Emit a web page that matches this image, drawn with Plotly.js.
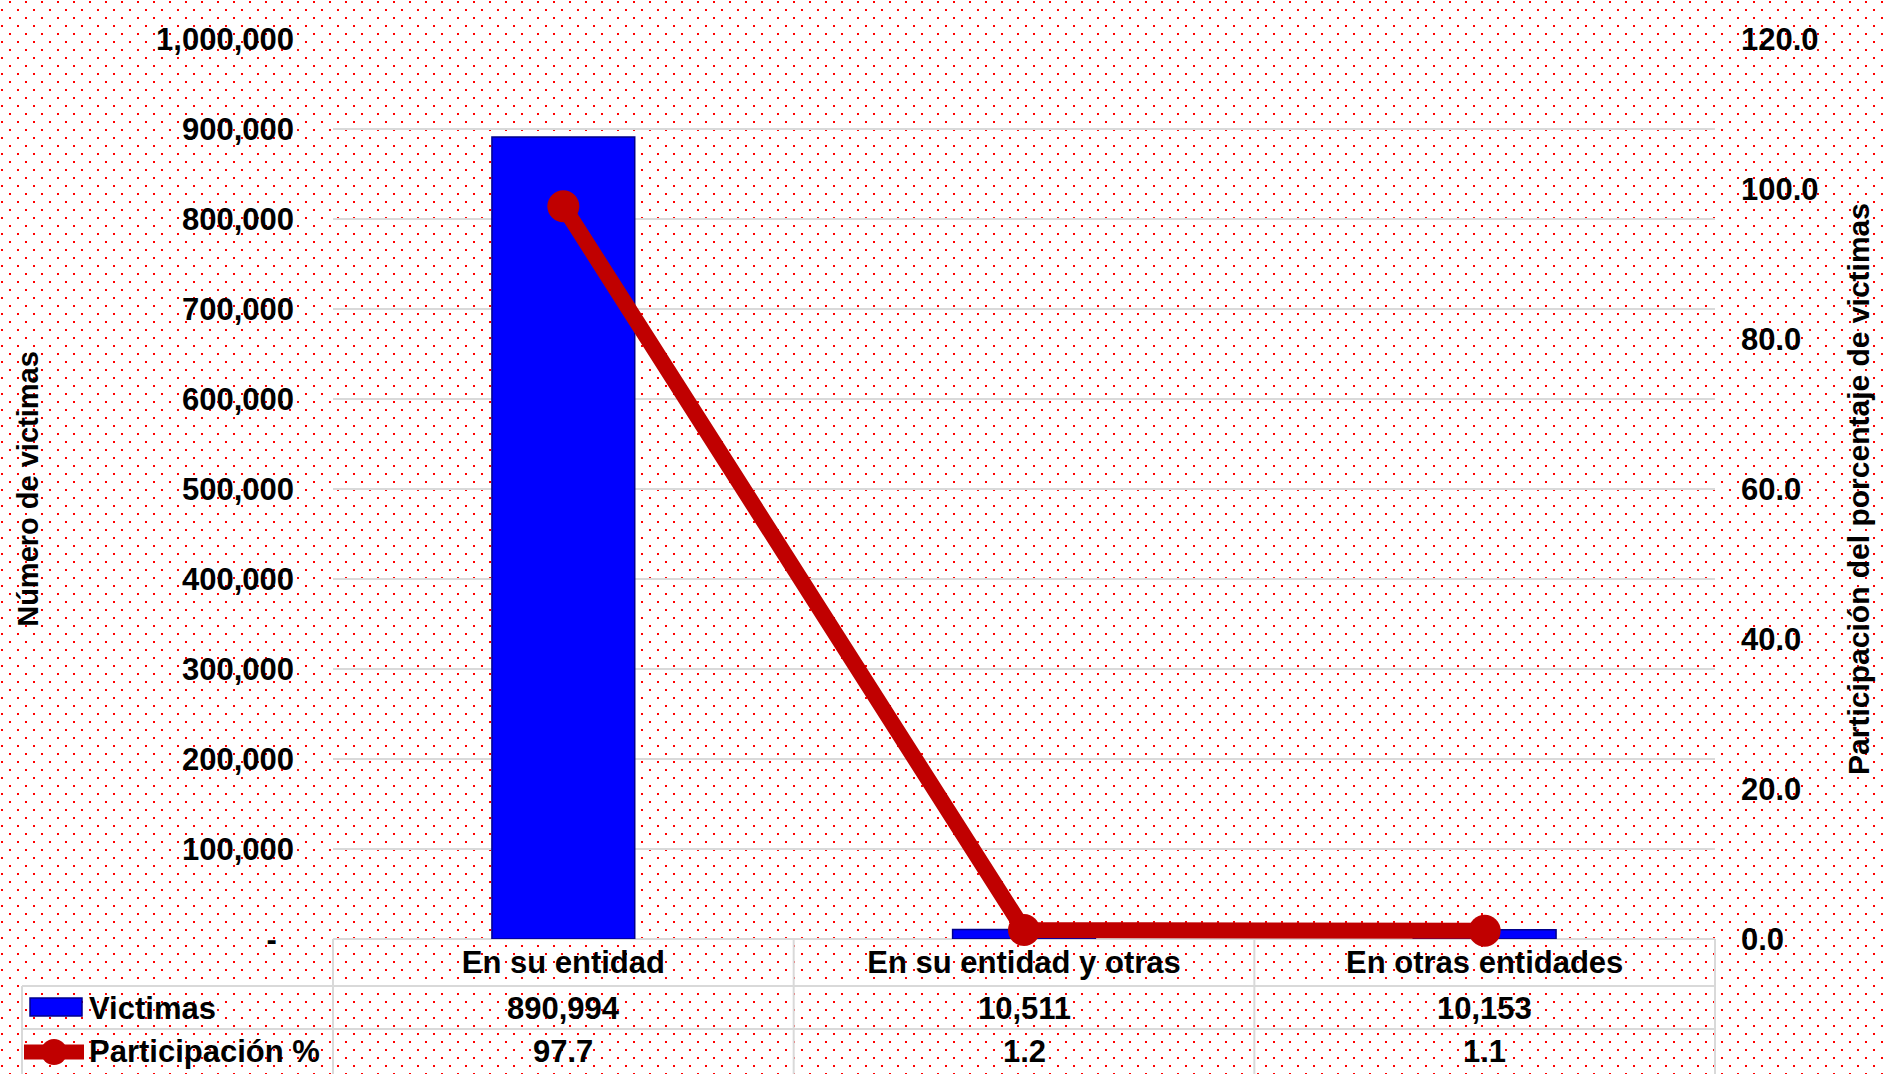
<!DOCTYPE html>
<html>
<head>
<meta charset="utf-8">
<script src="https://cdn.plot.ly/plotly-3.0.1.min.js"></script>
<style>
  html, body { margin: 0; padding: 0; }
  body {
    width: 1883px; height: 1074px; overflow: hidden;
    background-color: #ffffff;
    background-image: url("data:image/svg+xml,%3Csvg xmlns='http://www.w3.org/2000/svg' width='16' height='16'%3E%3Crect x='9' y='1' width='2' height='2' fill='%23ff0000'/%3E%3Crect x='1' y='9' width='2' height='2' fill='%23ff0000'/%3E%3C/svg%3E");
    background-size: 16px 16px;
  }
  #chart { width: 1883px; height: 1074px; }
</style>
</head>
<body>
<div id="chart"></div>
<script>
// ---- data ----
var categories = ["En su entidad", "En su entidad y otras", "En otras entidades"];
var victimas = [890994, 10511, 10153];
var participacion = [97.7, 1.2, 1.1];
var seriesNames = ["Victimas", "Participación %"];
var leftTicks = [0, 100000, 200000, 300000, 400000, 500000, 600000, 700000, 800000, 900000, 1000000];
var rightTicks = [0, 20, 40, 60, 80, 100, 120];
var leftTitle = "Número de victimas";
var rightTitle = "Participación del porcentaje de victimas";

// ---- geometry (pixels) ----
var W = 1883, H = 1074;
var L = 333, R = 1715, T = 39, B = 939;
function px(X) { return (X - L) / (R - L); }
function py(Y) { return (B - Y) / (B - T); }

var FONT = "Liberation Sans, Arial, sans-serif";
var FS = 31;
var BLUE = "#0000ff", RED = "#c00000", GRID = "#d9d9d9";

function fmtInt(v) { return v.toLocaleString("en-US"); }

var traces = [
  {
    type: "bar", name: seriesNames[0], x: categories, y: victimas,
    width: 0.31,
    marker: { color: BLUE, line: { color: "#00008b", width: 1.5 } },
    yaxis: "y", showlegend: false, hoverinfo: "x+y"
  },
  {
    type: "scatter", mode: "lines+markers", name: seriesNames[1],
    x: categories, y: participacion, yaxis: "y2",
    line: { color: RED, width: 16 },
    marker: { color: RED, size: 32 },
    showlegend: false, hoverinfo: "x+y", cliponaxis: false
  }
];

// table shapes
var shapes = [];
function hline(x0, x1, Y) {
  shapes.push({ type: "line", xref: "paper", yref: "paper", x0: px(x0), x1: px(x1), y0: py(Y), y1: py(Y),
    line: { color: GRID, width: 2 }, layer: "below" });
}
function vline(X, y0, y1) {
  shapes.push({ type: "line", xref: "paper", yref: "paper", x0: px(X), x1: px(X), y0: py(y0), y1: py(y1),
    line: { color: GRID, width: 2 }, layer: "below" });
}
hline(L, R, B);
hline(22, R, 986);
hline(22, R, 1029);
var colEdges = [L];
for (var i = 0; i < categories.length; i++) colEdges.push(L + (R - L) * (i + 1) / categories.length);
colEdges.forEach(function (X) { vline(X, B, 1080); });
vline(22, 986, 1080);

// legend keys inside table
shapes.push({ type: "rect", xref: "paper", yref: "paper", x0: px(30), x1: px(82), y0: py(1016), y1: py(998),
  fillcolor: BLUE, line: { color: "#00008b", width: 1.5 } });
shapes.push({ type: "line", xref: "paper", yref: "paper", x0: px(24), x1: px(84), y0: py(1052), y1: py(1052),
  line: { color: RED, width: 15 } });
shapes.push({ type: "circle", xref: "paper", yref: "paper", x0: px(41), x1: px(67), y0: py(1065), y1: py(1039),
  fillcolor: RED, line: { color: RED, width: 0 } });

// table annotations
var annotations = [];
var tfont = { family: FONT, size: FS, color: "#000000", weight: "bold" };
annotations.push({ xref: "paper", yref: "paper", x: px(87), y: py(1008), text: seriesNames[0],
  showarrow: false, xanchor: "left", yanchor: "middle", font: tfont });
annotations.push({ xref: "paper", yref: "paper", x: px(87), y: py(1051), text: seriesNames[1],
  showarrow: false, xanchor: "left", yanchor: "middle", font: tfont });
for (var j = 0; j < categories.length; j++) {
  var cx = (colEdges[j] + colEdges[j + 1]) / 2;
  annotations.push({ xref: "paper", yref: "paper", x: px(cx), y: py(1008), text: fmtInt(victimas[j]),
    showarrow: false, xanchor: "center", yanchor: "middle", font: tfont });
  annotations.push({ xref: "paper", yref: "paper", x: px(cx), y: py(1051), text: participacion[j].toFixed(1),
    showarrow: false, xanchor: "center", yanchor: "middle", font: tfont });
}

var layout = {
  width: W, height: H,
  margin: { l: L, r: W - R, t: T, b: H - B, pad: 0 },
  paper_bgcolor: "rgba(0,0,0,0)",
  plot_bgcolor: "rgba(0,0,0,0)",
  font: { family: FONT, size: FS, color: "#000000", weight: "bold" },
  showlegend: false,
  xaxis: {
    type: "category", showgrid: false, zeroline: false, showline: false, ticks: "",
    tickfont: { family: FONT, size: FS, color: "#000000", weight: "bold" },
    ticklabelstandoff: 2, automargin: false
  },
  yaxis: {
    range: [0, 1000000], tickvals: leftTicks,
    ticktext: leftTicks.map(function (v) { return v === 0 ? "-\u00a0\u00a0" : fmtInt(v); }),
    showgrid: true, gridcolor: GRID, gridwidth: 2, zeroline: false, showline: false, ticks: "",
    ticklabelstandoff: 38, automargin: false,
    tickfont: { family: FONT, size: FS, color: "#000000", weight: "bold" },
    title: { text: leftTitle, standoff: 108, font: { family: FONT, size: 29, color: "#000000", weight: "bold" } }
  },
  yaxis2: {
    overlaying: "y", side: "right", range: [0, 120], tickvals: rightTicks,
    tickformat: ".1f", showgrid: false, zeroline: false, showline: false, ticks: "",
    ticklabelstandoff: 25, automargin: false,
    tickfont: { family: FONT, size: FS, color: "#000000", weight: "bold" },
    title: { text: rightTitle, standoff: 30, font: { family: FONT, size: 30, color: "#000000", weight: "bold" } }
  },
  shapes: shapes,
  annotations: annotations
};

Plotly.newPlot("chart", traces, layout, { displayModeBar: false, staticPlot: true });
</script>
</body>
</html>
